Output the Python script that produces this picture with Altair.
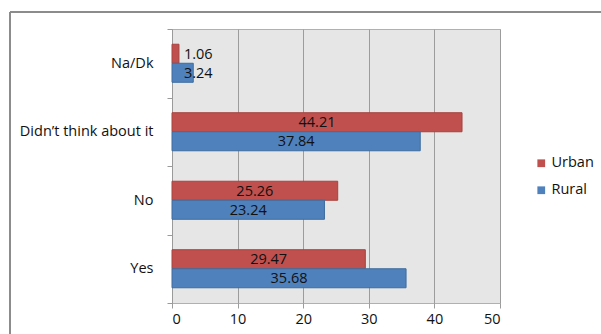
import altair as alt
import pandas as pd

categories = ["Na/Dk", "Didn\u2019t think about it", "No", "Yes"]
series = ["Urban", "Rural"]
urban = [1.06, 44.21, 25.26, 29.47]
rural = [3.24, 37.84, 23.24, 35.68]
x_ticks = [0, 10, 20, 30, 40, 50]

rows = []
for c, u, r in zip(categories, urban, rural):
    rows.append({"cat": c, "series": "Urban", "value": u})
    rows.append({"cat": c, "series": "Rural", "value": r})
df = pd.DataFrame(rows)

FONT = "Open Sans"
FS = 14.5

y_enc = alt.Y("cat:N", sort=categories, title=None,
              axis=alt.Axis(tickBand="extent", labelFontSize=FS, labelFont=FONT,
                            labelColor="#111", labelPadding=14, domainColor="#9a9a9a",
                            tickColor="#9a9a9a", tickSize=5, grid=False),
              scale=alt.Scale(paddingInner=0, paddingOuter=0))
yoff = alt.YOffset("series:N", sort=series,
                   scale=alt.Scale(paddingOuter=0.8, paddingInner=0))

bars = alt.Chart(df).mark_bar(strokeWidth=1).encode(
    x=alt.X("value:Q", title=None,
            scale=alt.Scale(domain=[0, 50], nice=False),
            axis=alt.Axis(values=x_ticks, labelFontSize=FS, labelFont=FONT, labelColor="#111",
                          gridColor="#9c9c9c", gridWidth=1, domain=False,
                          tickColor="#9c9c9c", tickSize=5, labelPadding=4)),
    y=y_enc,
    yOffset=yoff,
    color=alt.Color("series:N", sort=series,
                    scale=alt.Scale(domain=series, range=["#C0504D", "#4F81BD"]),
                    legend=alt.Legend(title=None, orient="none", legendX=362, legendY=127,
                                      symbolType="square", symbolSize=60, symbolStrokeWidth=0,
                                      labelFontSize=FS, labelFont=FONT, labelColor="#111",
                                      rowPadding=12, labelOffset=3)),
    stroke=alt.Stroke("series:N", sort=series,
                      scale=alt.Scale(domain=series, range=["#A8423F", "#3E6C9E"]),
                      legend=None),
)

labels = alt.Chart(df).transform_calculate(
    pos="max(datum.value / 2, 4)"
).mark_text(fontSize=FS, font=FONT, color="#111", baseline="middle", dy=1).encode(
    x=alt.X("pos:Q"),
    y=alt.Y("cat:N", sort=categories),
    yOffset=yoff,
    text=alt.Text("value:Q", format=".2f"),
)

border_top = alt.Chart(df).mark_rule(color="#8c8c8c", strokeWidth=1.5, clip=False).encode(
    x=alt.value(-162), x2=alt.value(440), y=alt.value(-17))
border_left = alt.Chart(df).mark_rule(color="#8c8c8c", strokeWidth=1.5, clip=False).encode(
    x=alt.value(-162), y=alt.value(-17), y2=alt.value(320))

chart = alt.layer(bars, labels, border_top, border_left).properties(
    width=328, height=274,
    padding={"left": 172, "top": 29, "right": 101, "bottom": 31},
    autosize=alt.AutoSizeParams(type="none"),
    background="white",
).configure_view(fill="#E6E6E6", stroke="#b0b0b0", strokeWidth=1)

chart.save("out.html", embed_options={"renderer": "svg", "actions": False})
